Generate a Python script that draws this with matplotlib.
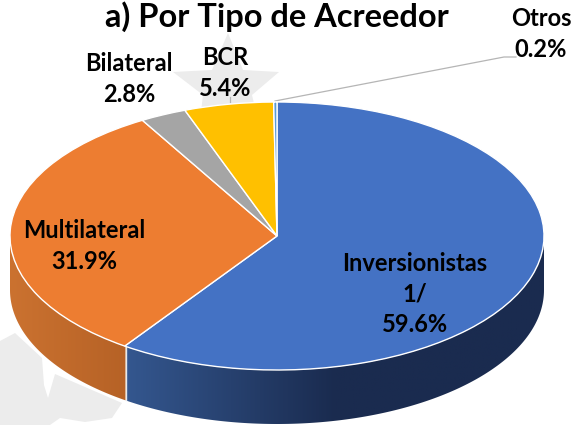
import numpy as np
import matplotlib
matplotlib.use('Agg')
import matplotlib.pyplot as plt
from matplotlib.colors import LinearSegmentedColormap
from matplotlib.patches import Polygon

# datos
categorias = ['Inversionistas\n1/', 'Multilateral', 'Bilateral', 'BCR', 'Otros']
valores = [59.6, 31.9, 2.8, 5.4, 0.2]
colores = ['#4472c4', '#ed7d31', '#a5a5a5', '#ffc000', '#5b9bd5']

plt.rcParams['font.family'] = ['Lato', 'DejaVu Sans']

W, H = 576, 425
CX, CY, RX, RY = 277, 236, 267, 134
PROF = 54 / RY


def px(x, y):
    # pixeles de la imagen a coordenadas del pie
    return (x - CX) / RX, (CY - y) / RY


fig = plt.figure(figsize=(W / 100, H / 100), dpi=100)
ax = fig.add_axes([0, 0, 1, 1])

ax.pie(valores, colors=colores, startangle=90, counterclock=False, radius=1,
       wedgeprops={'edgecolor': 'white', 'linewidth': 1.0, 'zorder': 4})
ax.set_aspect('auto')
ax.axis('off')

# marca de agua gris
estrella = [(228, 33), (243, 70), (279, 72), (252, 95), (258, 120), (200, 120), (203, 95), (173, 72), (212, 70)]
mancha = [(0, 341), (15, 333), (42, 358), (44, 385), (48, 398), (55, 374), (122, 403),
          (112, 418), (85, 422), (60, 418), (50, 425), (0, 425)]
for forma in (estrella, mancha):
    ax.add_patch(Polygon([px(*p) for p in forma], closed=True, color='#ececec', lw=0, zorder=0))

# pared lateral con degradado
acum = np.cumsum(valores)
t_corte = acum[0] / 100 * 360
lados = [
    (90, t_corte, ['#34578f', '#1a2b4f', '#1a2b4f'], 126, 545),
    (t_corte, 270, ['#cb7230', '#b66226'], 10, 126),
]
for t0, t1, cols, x0, x1 in lados:
    t = np.radians(np.linspace(t0, t1, 200))
    xs, ys = np.sin(t), np.cos(t)
    verts = np.r_[np.c_[xs, ys], np.c_[xs, ys - PROF][::-1]]
    pol = Polygon(verts, closed=True, fc='none', ec='none')
    ax.add_patch(pol)
    cmap = LinearSegmentedColormap.from_list('lado', cols)
    grad = np.linspace(0, 1, 256).reshape(1, -1)
    im = ax.imshow(grad, cmap=cmap, aspect='auto', zorder=2,
                   extent=(px(x0, 0)[0], px(x1, 0)[0], -1 - PROF, 0))
    im.set_clip_path(pol)
ax.set_aspect('auto')
ax.set_xlim(px(0, 0)[0], px(W, 0)[0])
ax.set_ylim(px(0, H)[1], px(0, 0)[1])

# separacion blanca en la pared
xc, yc = np.sin(np.radians(t_corte)), np.cos(np.radians(t_corte))
ax.plot([xc, xc], [yc, yc - PROF], color='#e8e8e8', lw=1.0, zorder=3)

# lineas guia
ax.plot(*zip(px(275, 101), px(504, 57), px(516, 57)), color='#b5b5b5', lw=0.9, zorder=3)
ax.plot(*zip(px(230, 97), px(230, 102)), color='#b5b5b5', lw=0.9, zorder=3)

# etiquetas
etq = dict(ha='center', va='center', fontsize=17, fontweight='bold', color='black', zorder=6, linespacing=1.39)
ax.text(*px(415, 294), f'{categorias[0]}\n{valores[0]}%', **etq)
ax.text(*px(84, 246), f'{categorias[1]}\n{valores[1]}%', **etq)
ax.text(*px(129, 79), f'{categorias[2]}\n{valores[2]}%', **etq)
ax.text(*px(225, 73), f'{categorias[3]}\n{valores[3]}%', **etq)
ax.text(*px(541, 34), f'{categorias[4]}\n{valores[4]}%', **etq)

ax.text(*px(277, 17), 'a) Por Tipo de Acreedor', ha='center', va='center',
        fontsize=23.5, fontweight='bold', color='black', zorder=6)

fig.savefig('out.png', dpi=100)
